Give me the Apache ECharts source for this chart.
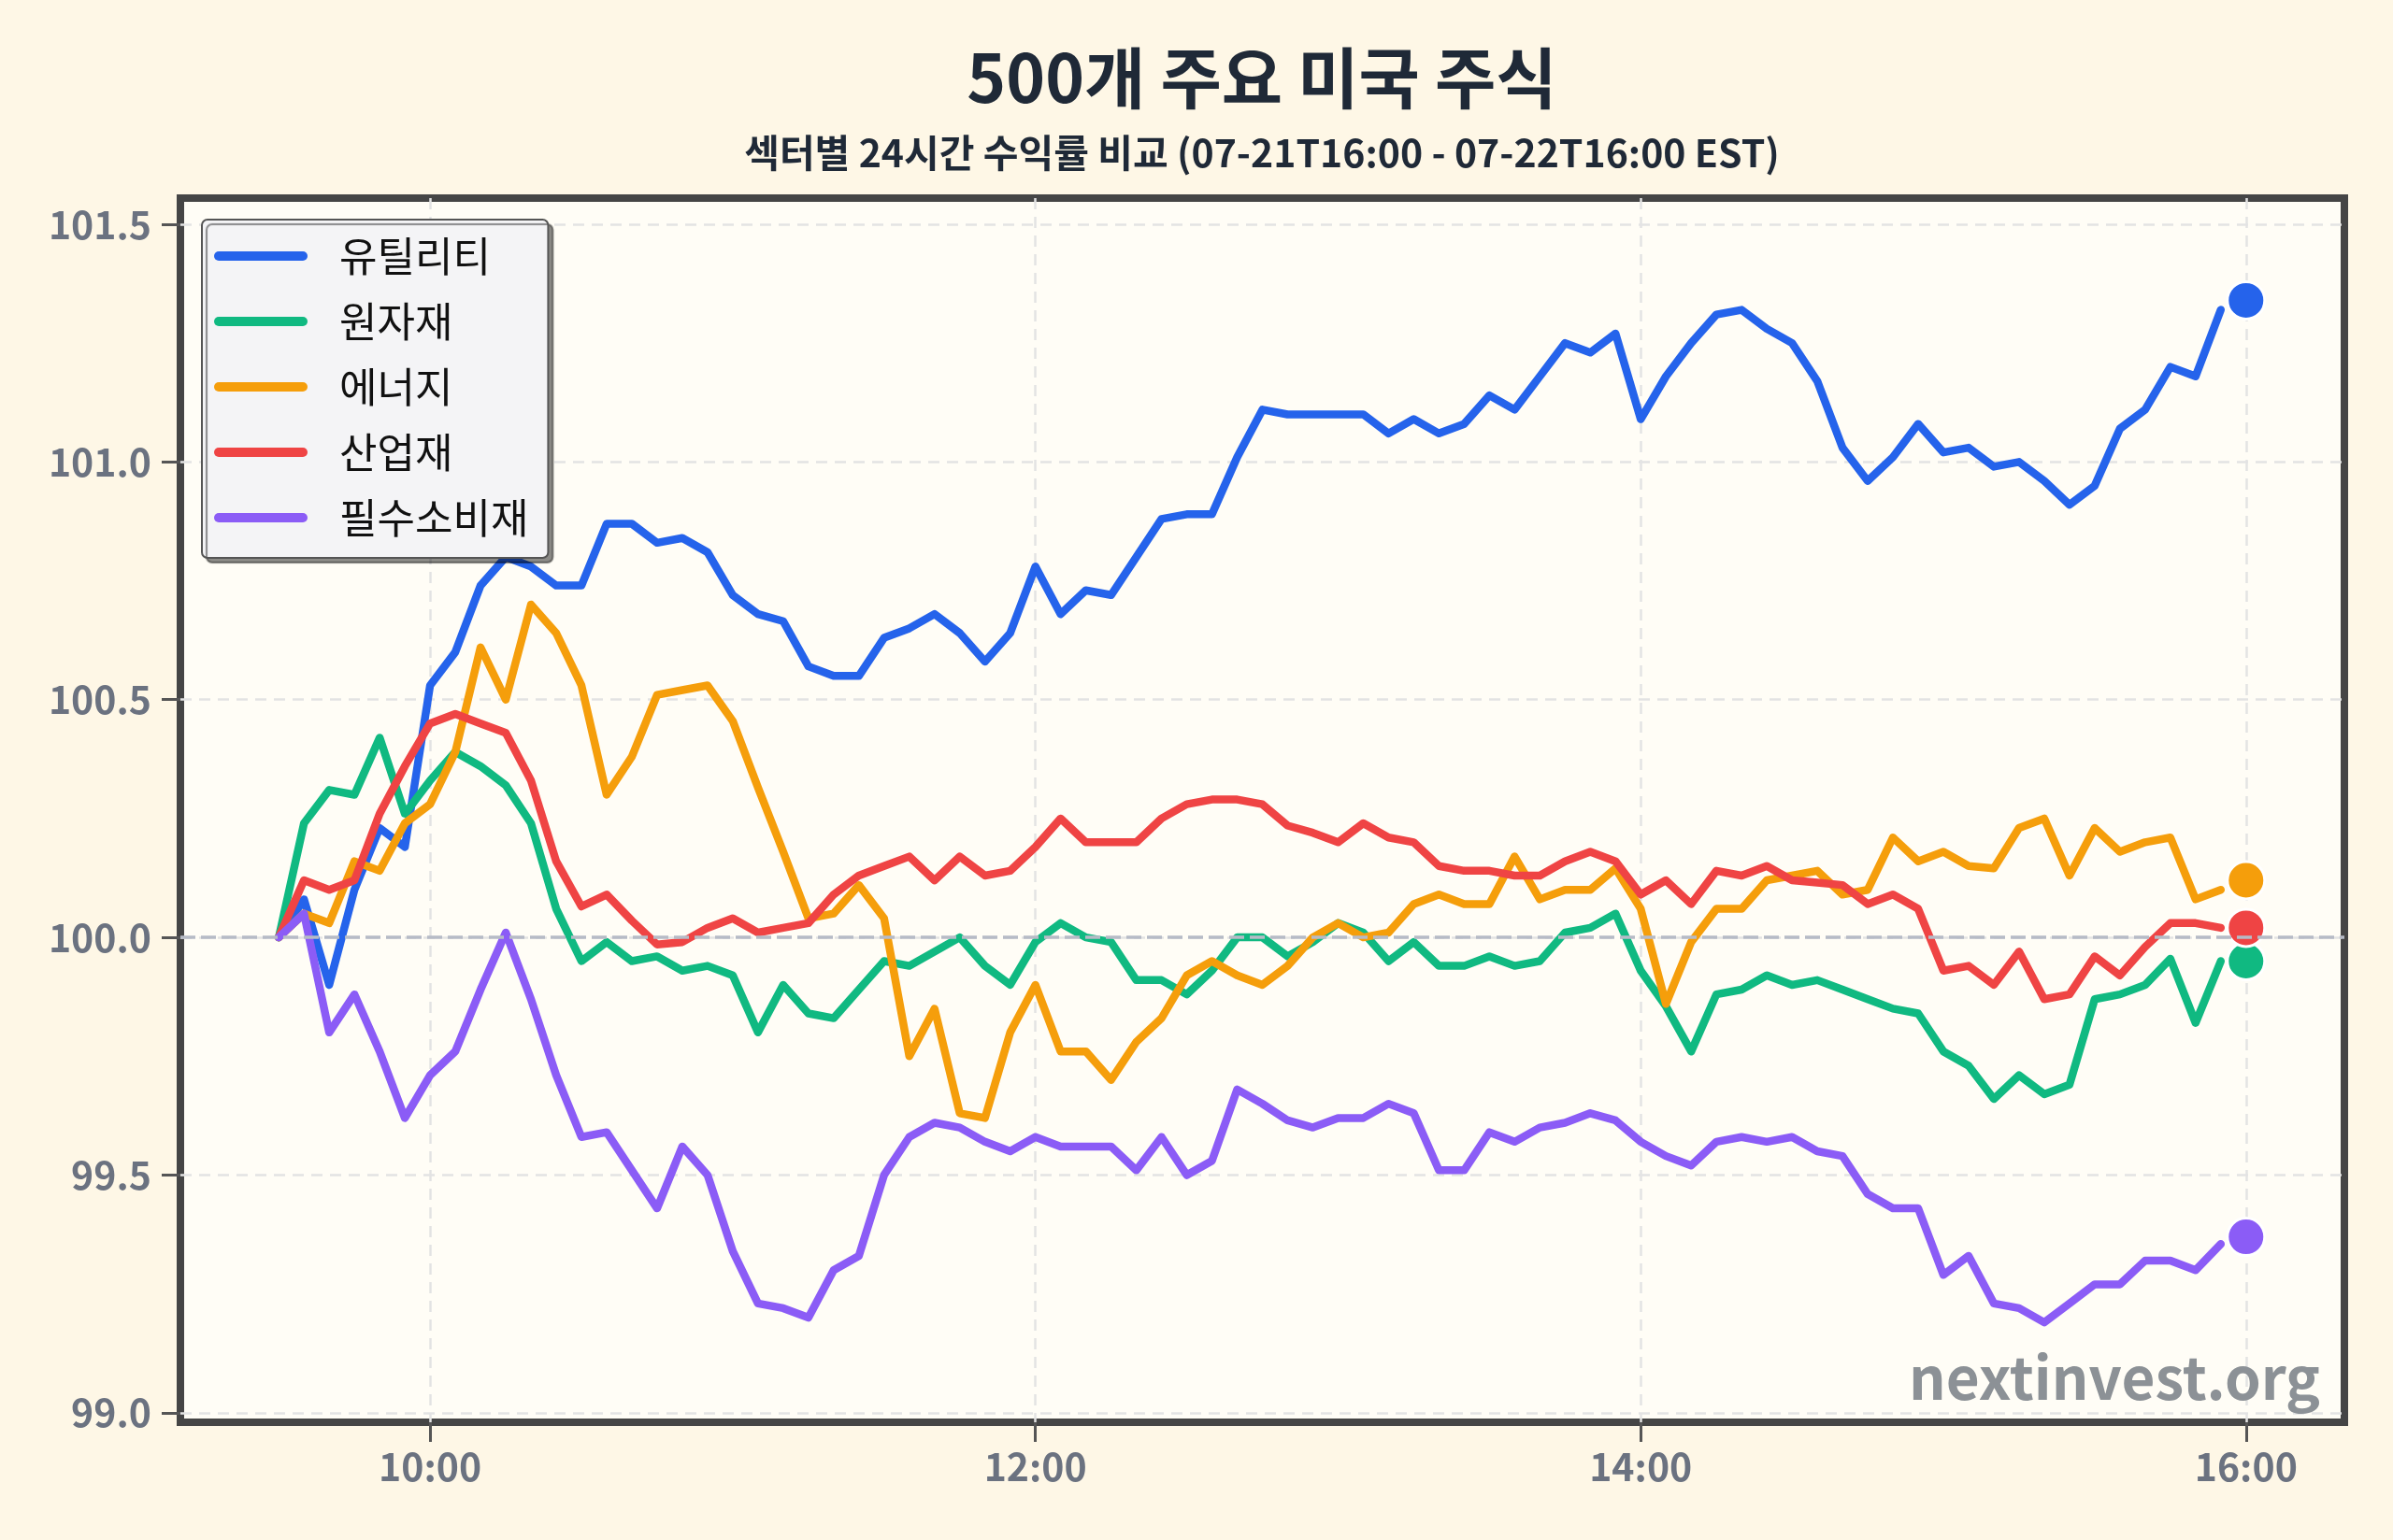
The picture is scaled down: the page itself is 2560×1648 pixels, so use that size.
<!DOCTYPE html>
<html>
<head>
<meta charset="utf-8">
<script src="https://cdn.jsdelivr.net/npm/echarts@6/dist/echarts.min.js"></script>
<style>
  html, body { margin: 0; padding: 0; background: #fef7e6; }
  #chart { width: 2560px; height: 1648px; }
</style>
</head>
<body>
<div id="chart"></div>
<script>
// 5분 간격 (09:30 ~ 15:55), 16:00 종가는 점으로 표시
const times = [];
for (let m = 9 * 60 + 30; m <= 15 * 60 + 55; m += 5) {
  times.push(String(Math.floor(m / 60)).padStart(2, '0') + ':' + String(m % 60).padStart(2, '0'));
}
const closeTime = '16:00';

const utilities = [
  100.00, 100.08, 99.90, 100.10, 100.23, 100.19, 100.53, 100.60, 100.74, 100.80, 100.78, 100.74, 100.74, 100.87, 100.87, 100.83, 100.84, 100.81, 100.72, 100.68, 100.665,
  100.57, 100.55, 100.55, 100.63, 100.65, 100.68, 100.64, 100.58, 100.64, 100.78, 100.68, 100.73, 100.72, 100.80, 100.88, 100.89, 100.89, 101.01, 101.11, 101.10,
  101.10, 101.10, 101.10, 101.06, 101.09, 101.06, 101.08, 101.14, 101.11, 101.18, 101.25, 101.23, 101.27, 101.09, 101.18, 101.25, 101.31, 101.32, 101.28, 101.25,
  101.17, 101.03, 100.96, 101.01, 101.08, 101.02, 101.03, 100.99, 101.00, 100.96, 100.91, 100.95, 101.07, 101.11, 101.20, 101.18, 101.32
];
const materials = [
  100.00, 100.24, 100.31, 100.30, 100.42, 100.26, 100.33, 100.39, 100.36, 100.32, 100.24, 100.06, 99.95, 99.99, 99.95, 99.96, 99.93, 99.94, 99.92, 99.80, 99.90,
  99.84, 99.83, 99.89, 99.95, 99.94, 99.97, 100.00, 99.94, 99.90, 99.99, 100.03, 100.00, 99.99, 99.91, 99.91, 99.88, 99.93, 100.00, 100.00, 99.96,
  99.99, 100.03, 100.01, 99.95, 99.99, 99.94, 99.94, 99.96, 99.94, 99.95, 100.01, 100.02, 100.05, 99.93, 99.855, 99.76, 99.88, 99.89, 99.92, 99.90,
  99.91, 99.89, 99.87, 99.85, 99.84, 99.76, 99.73, 99.66, 99.71, 99.67, 99.69, 99.87, 99.88, 99.90, 99.955, 99.82, 99.95
];
const energy = [
  100.00, 100.05, 100.03, 100.16, 100.14, 100.24, 100.28, 100.39, 100.61, 100.50, 100.70, 100.64, 100.53, 100.30, 100.38, 100.51, 100.52, 100.53, 100.455, 100.315, 100.18,
  100.04, 100.05, 100.11, 100.04, 99.75, 99.85, 99.63, 99.62, 99.80, 99.90, 99.76, 99.76, 99.70, 99.78, 99.83, 99.92, 99.95, 99.92, 99.90, 99.94,
  100.00, 100.03, 100.00, 100.01, 100.07, 100.09, 100.07, 100.07, 100.17, 100.08, 100.10, 100.10, 100.145, 100.06, 99.86, 99.99, 100.06, 100.06, 100.12, 100.13,
  100.14, 100.09, 100.10, 100.21, 100.16, 100.18, 100.15, 100.145, 100.23, 100.25, 100.13, 100.23, 100.18, 100.20, 100.21, 100.08, 100.10
];
const industrials = [
  100.00, 100.12, 100.10, 100.12, 100.26, 100.36, 100.45, 100.47, 100.45, 100.43, 100.33, 100.16, 100.065, 100.09, 100.035, 99.985, 99.99, 100.02, 100.04, 100.01, 100.02,
  100.03, 100.09, 100.13, 100.15, 100.17, 100.12, 100.17, 100.13, 100.14, 100.19, 100.25, 100.20, 100.20, 100.20, 100.25, 100.28, 100.29, 100.29, 100.28, 100.235,
  100.22, 100.20, 100.24, 100.21, 100.20, 100.15, 100.14, 100.14, 100.13, 100.13, 100.16, 100.18, 100.16, 100.09, 100.12, 100.07, 100.14, 100.13, 100.15, 100.12,
  100.115, 100.11, 100.07, 100.09, 100.06, 99.93, 99.94, 99.90, 99.97, 99.87, 99.88, 99.96, 99.92, 99.98, 100.03, 100.03, 100.02
];
const staples = [
  100.00, 100.05, 99.80, 99.88, 99.76, 99.62, 99.71, 99.76, 99.89, 100.01, 99.87, 99.71, 99.58, 99.59, 99.51, 99.43, 99.56, 99.50, 99.34, 99.23, 99.22,
  99.20, 99.30, 99.33, 99.50, 99.58, 99.61, 99.60, 99.57, 99.55, 99.58, 99.56, 99.56, 99.56, 99.51, 99.58, 99.50, 99.53, 99.68, 99.65, 99.615,
  99.60, 99.62, 99.62, 99.65, 99.63, 99.51, 99.51, 99.59, 99.57, 99.60, 99.61, 99.63, 99.615, 99.57, 99.54, 99.52, 99.57, 99.58, 99.57, 99.58,
  99.55, 99.54, 99.46, 99.43, 99.43, 99.29, 99.33, 99.23, 99.22, 99.19, 99.23, 99.27, 99.27, 99.32, 99.32, 99.30, 99.355
];
// 16:00 종가
const closeValues = [101.34, 99.95, 100.12, 100.02, 99.37];

const names = ['유틸리티', '원자재', '에너지', '산업재', '필수소비재'];
const colors = ['#2563eb', '#10b981', '#f59e0b', '#ef4444', '#8b5cf6'];
const seriesData = [utilities, materials, energy, industrials, staples];

const xTicks = ['10:00', '12:00', '14:00', '16:00'];
const yTicks = [99.0, 99.5, 100.0, 100.5, 101.0, 101.5];

const FONT = "'Noto Sans CJK KR', 'Noto Sans', sans-serif";
const toMin = t => { const [h, m] = t.split(':').map(Number); return h * 60 + m; };
const fmtMin = v => String(Math.floor(v / 60)).padStart(2, '0') + ':' + String(Math.round(v % 60)).padStart(2, '0');

const chart = echarts.init(document.getElementById('chart'));

const lineSeries = names.map((name, k) => ({
  type: 'line',
  name: name,
  data: times.map((t, i) => [toMin(t), seriesData[k][i]]),
  showSymbol: false,
  symbol: 'none',
  color: colors[k],
  lineStyle: { width: 8.5, color: colors[k], cap: 'round', join: 'round' },
  z: 3
}));

chart.setOption({
  animation: false,
  backgroundColor: '#fef7e6',
  textStyle: { fontFamily: FONT },
  grid: {
    left: 193, right: 52, top: 212, bottom: 126,
    show: true, backgroundColor: '#fffdf6', borderColor: '#454545', borderWidth: 8
  },
  xAxis: {
    type: 'value', min: 550.5, max: 979.5,
    axisLine: { show: false },
    axisTick: { show: true, length: 21, customValues: xTicks.map(toMin), lineStyle: { color: '#555', width: 3 } },
    axisLabel: {
      customValues: xTicks.map(toMin), formatter: fmtMin,
      fontSize: 41, fontWeight: 'bold', color: '#6b7280', margin: 27, fontFamily: FONT
    },
    splitLine: { show: true, lineStyle: { color: '#e3e3e3', width: 2.5, type: [12, 8] } }
  },
  yAxis: {
    type: 'value', min: 98.98, max: 101.555,
    axisLine: { show: false },
    axisTick: { show: true, length: 20, customValues: yTicks, lineStyle: { color: '#555', width: 3 } },
    axisLabel: {
      customValues: yTicks, formatter: v => v.toFixed(1),
      fontSize: 41, fontWeight: 'bold', color: '#6b7280', margin: 31, fontFamily: FONT
    },
    splitLine: { show: true, lineStyle: { color: '#e3e3e3', width: 2.5, type: [12, 8] } }
  },
  legend: {
    data: names, orient: 'vertical', left: 216, top: 235,
    itemWidth: 100, itemHeight: 10, itemGap: 26,
    icon: 'path://M5,0H95A5,5,0,0,1,95,10H5A5,5,0,0,1,5,0Z',
    padding: [17, 21, 21, 13],
    backgroundColor: '#f4f4f6', borderColor: '#555', borderWidth: 2, borderRadius: 6,
    shadowColor: 'rgba(0,0,0,0.45)', shadowOffsetX: 5, shadowOffsetY: 5, shadowBlur: 1,
    textStyle: { fontSize: 44, color: '#111', fontFamily: FONT, lineHeight: 44, padding: [0, 0, 0, 29] }
  },
  graphic: [
    {
      type: 'text', x: 1350, y: 83, z: 10,
      style: { text: '500개 주요 미국 주식', font: 'bold 71px ' + FONT, fill: '#1f2937',
        textAlign: 'center', textVerticalAlign: 'middle', align: 'center', verticalAlign: 'middle' }
    },
    {
      type: 'text', x: 1350, y: 163, z: 10,
      style: { text: '섹터별 24시간 수익률 비교 (07-21T16:00 - 07-22T16:00 EST)', font: 'bold 41px ' + FONT, fill: '#1f2937',
        textAlign: 'center', textVerticalAlign: 'middle', align: 'center', verticalAlign: 'middle' }
    },
    {
      type: 'text', x: 2482, y: 1474, z: 10,
      style: { text: 'nextinvest.org', font: 'bold 62px ' + FONT, fill: '#8c9196',
        textAlign: 'right', textVerticalAlign: 'middle', align: 'right', verticalAlign: 'middle' }
    }
  ],
  series: [
    {
      type: 'line', name: 'baseline', data: [], z: 2,
      markLine: {
        silent: true, symbol: 'none', label: { show: false },
        lineStyle: { color: '#b6bbc6', width: 3.5, type: [16, 6] },
        data: [{ yAxis: 100 }]
      }
    },
    ...lineSeries,
    {
      type: 'scatter', name: 'close', z: 4,
      symbolSize: 40,
      data: closeValues.map((v, k) => ({
        value: [toMin(closeTime), v],
        itemStyle: { color: colors[k], opacity: 1, borderColor: '#ffffff', borderWidth: 3 }
      }))
    }
  ]
});
</script>
</body>
</html>
